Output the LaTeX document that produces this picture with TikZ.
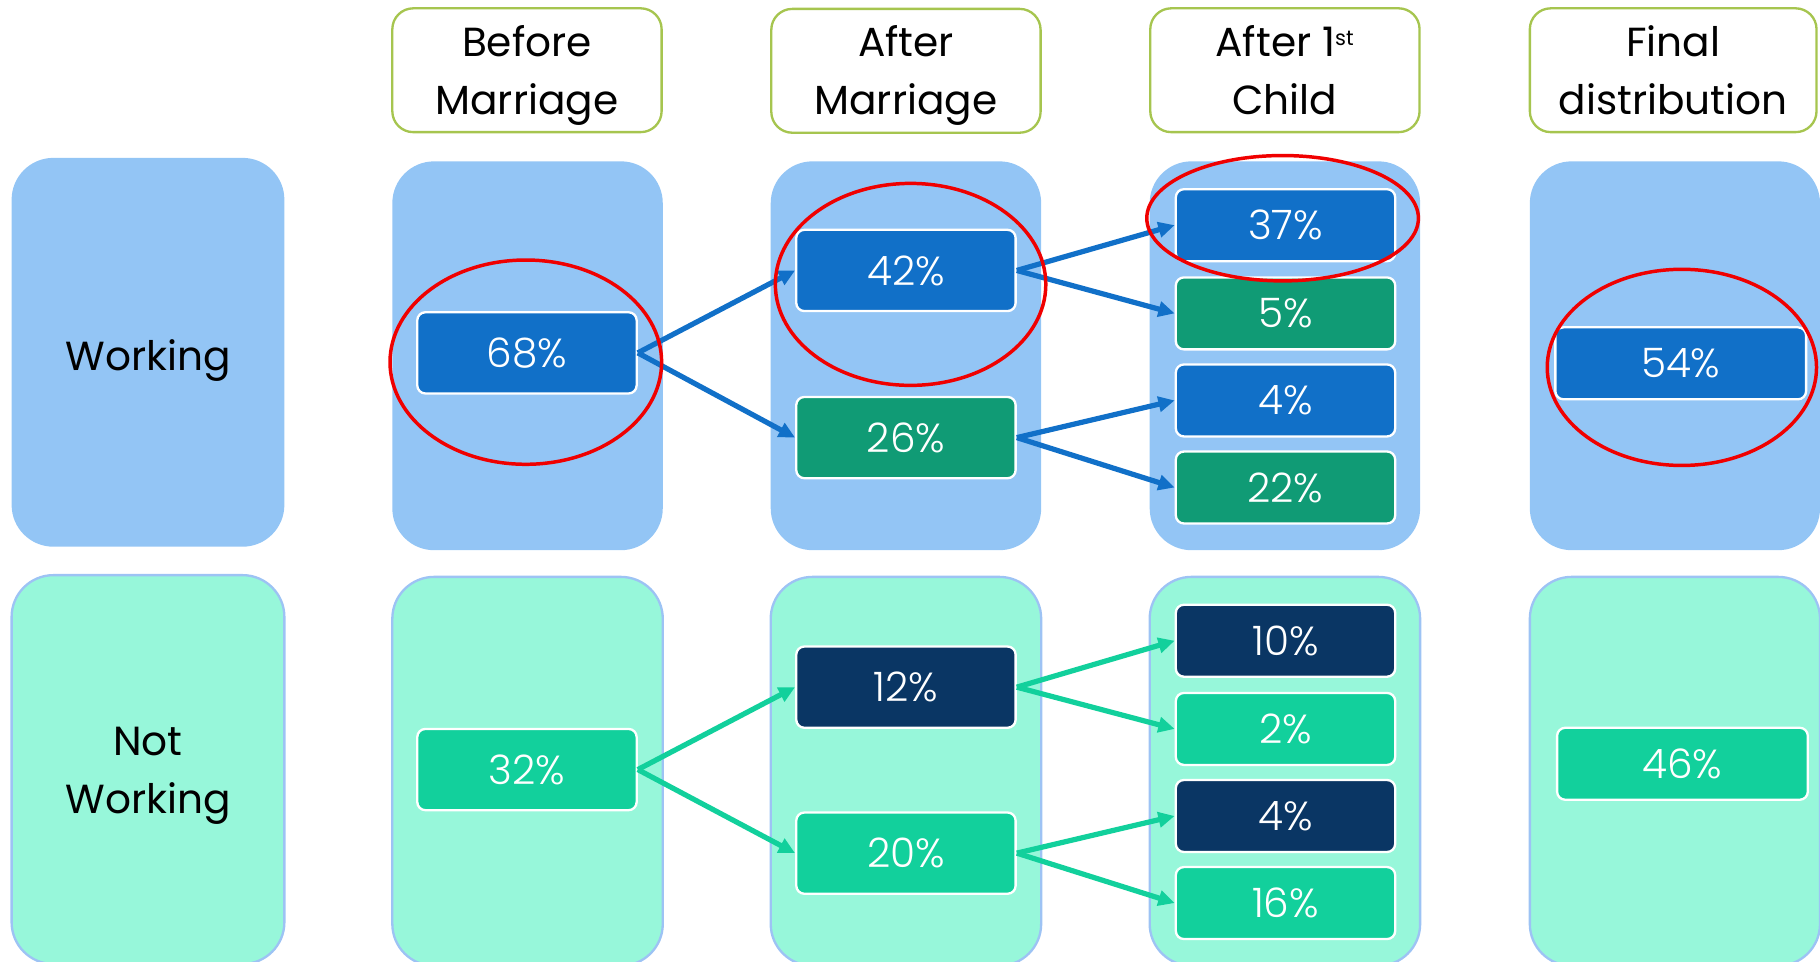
\documentclass[tikz,border=0pt]{standalone}
\usepackage{fontspec}
\setmainfont{Poppins}
\newfontfamily\celltext{Poppins Light}
\usetikzlibrary{arrows.meta,shapes.geometric}
\definecolor{panelblue}{HTML}{93C5F5}
\definecolor{panelmint}{HTML}{97F7DA}
\definecolor{panelline}{HTML}{9DC3F4}
\definecolor{headline}{HTML}{A6C54F}
\definecolor{workblue}{HTML}{1170C8}
\definecolor{workgreen}{HTML}{109B75}
\definecolor{mint}{HTML}{12D09C}
\definecolor{navy}{HTML}{0A3664}
\definecolor{ringred}{HTML}{F00000}
\tikzset{
  panelW/.style={fill=panelblue, rounded corners=36pt, minimum width=233pt, minimum height=335pt},
  panelN/.style={fill=panelmint, draw=panelline, line width=2pt, rounded corners=36pt, minimum width=233pt, minimum height=335pt},
  head/.style={draw=headline, line width=2pt, rounded corners=18pt, fill=white, align=center, minimum width=232pt, minimum height=105pt},
  cell/.style={draw=white, line width=2pt, rounded corners=7pt, text=white, minimum width=189pt, minimum height=70pt, font=\celltext\fontsize{35}{50}\selectfont},
  ring/.style={ellipse, draw=ringred, line width=3pt, inner sep=0pt},
  flowW/.style={draw=workblue, line width=4.5pt, -{Triangle[length=14pt,width=13pt]}},
  flowN/.style={draw=mint, line width=4.5pt, -{Triangle[length=14pt,width=13pt]}},
}
\begin{document}
\begin{tikzpicture}[x=1pt,y=-1pt,font=\fontsize{35}{50}\selectfont]
\useasboundingbox (0,0) rectangle (1568,828);
% row labels
\node[panelW, minimum width=235pt, text height=40pt, text depth=8pt] (rowW) at (127.5,303.5) {Working};
\node[panelN, minimum width=235pt, align=center] (rowN) at (127.5,663) {\raisebox{-3pt}{Not}\strut\\\raisebox{-3pt}{Working}\strut};
% column headers
\node[head] (h1) at (454,60.5) {\raisebox{-3pt}{Before}\strut\\\raisebox{-3pt}{Marriage}\strut};
\node[head] (h2) at (780.5,61) {\raisebox{-3pt}{After}\strut\\\raisebox{-3pt}{Marriage}\strut};
\node[head] (h3) at (1107,60.5) {\raisebox{-3pt}{After 1\textsuperscript{\fontsize{18}{20}\selectfont st}}\strut\\\raisebox{-3pt}{Child}\strut};
\node[head, minimum width=247pt] (h4) at (1441.5,60.5) {\raisebox{-3pt}{Final}\strut\\\raisebox{-3pt}{distribution}\strut};
% panels
\foreach \c/\x in {1/454.5,2/780.5,3/1107}{
  \node[panelW] (pw\c) at (\x,306.5) {};
  \node[panelN] (pn\c) at (\x,664.5) {};}
\node[panelW, minimum width=250pt] (pw4) at (1443,306.5) {};
\node[panelN, minimum width=250pt] (pn4) at (1443,664.5) {};
% working cells
\node[cell, fill=workblue] (w68) at (454,304) {68\%};
\node[cell, fill=workblue] (w42) at (780.5,233) {42\%};
\node[cell, fill=workgreen] (w26) at (780.5,377) {26\%};
\foreach \n/\y/\f in {37/194/workblue,5/270/workgreen,4/345/workblue,22/420/workgreen}
  \node[cell, fill=\f, minimum height=62pt] (w\n) at (1107.5,\y) {\n\%};
\node[cell, fill=workblue, minimum width=216pt, minimum height=62pt] (w54) at (1448,313) {54\%};
% not working cells
\node[cell, fill=mint] (n32) at (454,663) {32\%};
\node[cell, fill=navy] (n12) at (780.5,592) {12\%};
\node[cell, fill=mint] (n20) at (780.5,735) {20\%};
\foreach \n/\y/\f in {10/552/navy,2/628/mint,4/703/navy,16/778/mint}
  \node[cell, fill=\f, minimum height=62pt] (n\n) at (1107.5,\y) {\n\%};
\node[cell, fill=mint, minimum width=216pt, minimum height=62pt] (n46) at (1449.5,658) {46\%};
% flows
\draw[flowW] (w68.east) -- (w42.west);
\draw[flowW] (w68.east) -- (w26.west);
\draw[flowW] (w42.east) -- (w37.west);
\draw[flowW] (w42.east) -- (w5.west);
\draw[flowW] (w26.east) -- (w4.west);
\draw[flowW] (w26.east) -- (w22.west);
\draw[flowN] (n32.east) -- (n12.west);
\draw[flowN] (n32.east) -- (n20.west);
\draw[flowN] (n12.east) -- (n10.west);
\draw[flowN] (n12.east) -- (n2.west);
\draw[flowN] (n20.east) -- (n4.west);
\draw[flowN] (n20.east) -- (n16.west);
% highlights
\node[ring, minimum width=234pt, minimum height=176pt] (r68) at (453,312) {};
\node[ring, minimum width=233pt, minimum height=174pt] (r42) at (784.5,245) {};
\node[ring, minimum width=234pt, minimum height=108pt] (r37) at (1105,188) {};
\node[ring, minimum width=232pt, minimum height=169pt] (r54) at (1449,316.5) {};
\end{tikzpicture}
\end{document}
